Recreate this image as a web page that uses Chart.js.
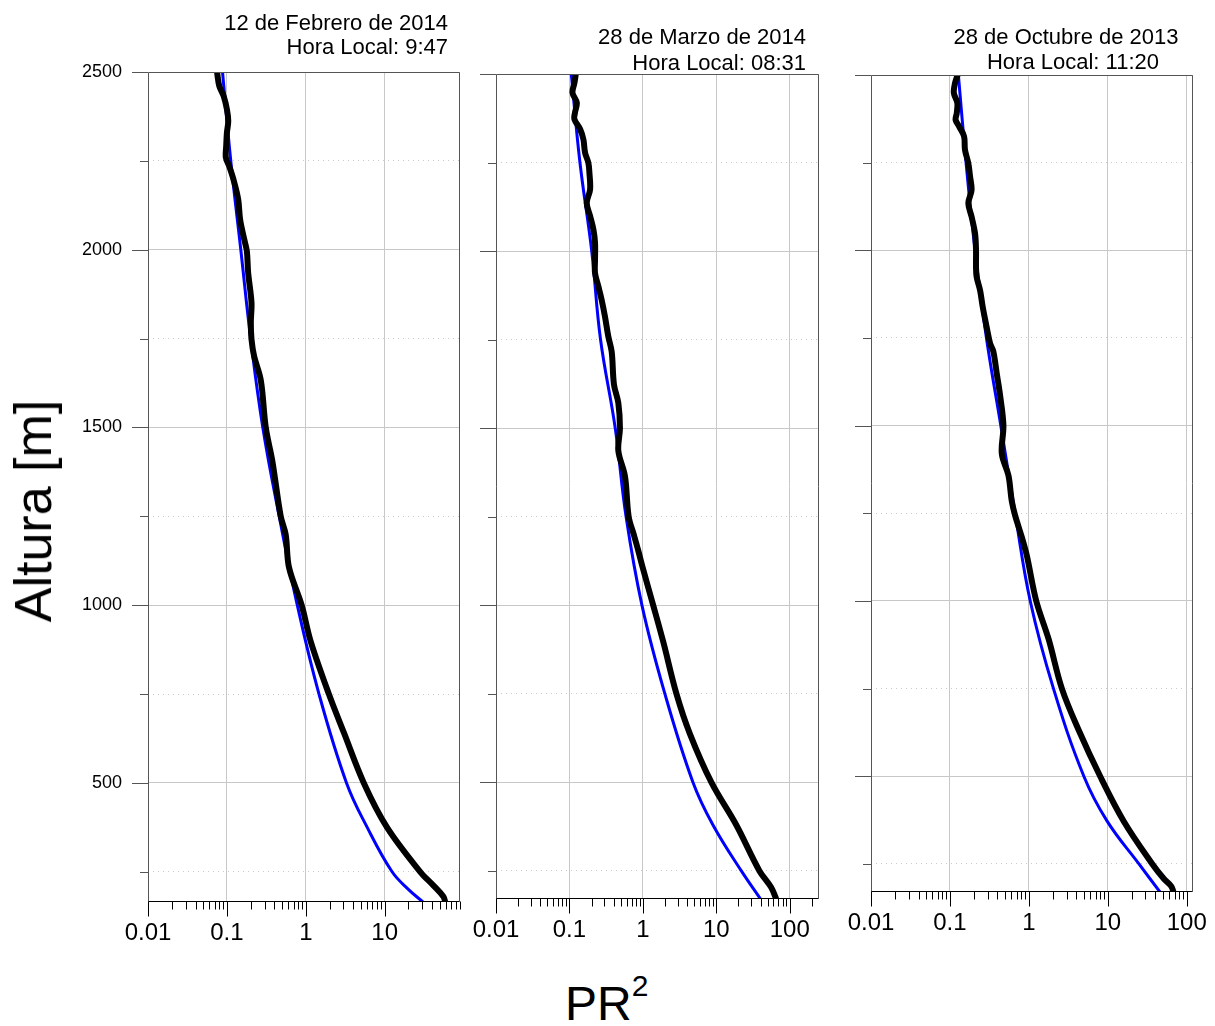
<!DOCTYPE html>
<html>
<head>
<meta charset="utf-8">
<script src="https://cdn.jsdelivr.net/npm/chart.js@4.4.1/dist/chart.umd.min.js"></script>
<style>
  body { margin: 0; background: #fff; width: 1215px; height: 1026px; position: relative; overflow: hidden;
         font-family: "Liberation Sans", Arial, sans-serif; }
  canvas { position: absolute; top: 0; }
  .txt { position: absolute; white-space: nowrap; color: #000; line-height: 1; }
</style>
</head>
<body>
<canvas id="febChart" style="left:0px" width="470" height="960"></canvas>
<canvas id="marChart" style="left:470px" width="360" height="960"></canvas>
<canvas id="octChart" style="left:840px" width="375" height="960"></canvas>

<div class="txt" style="font-size:22px; right:767px; top:12px;">12 de Febrero de 2014</div>
<div class="txt" style="font-size:22px; right:767px; top:36px;">Hora Local: 9:47</div>
<div class="txt" style="font-size:22px; right:409px; top:26px;">28 de Marzo de 2014</div>
<div class="txt" style="font-size:22px; right:409px; top:52px;">Hora Local: 08:31</div>
<div class="txt" style="font-size:22px; left:1066px; top:26px; transform:translateX(-50%);">28 de Octubre de 2013</div>
<div class="txt" style="font-size:22px; left:1073px; top:51px; transform:translateX(-50%);">Hora Local: 11:20</div>

<div class="txt" style="font-size:52px; left:33px; top:511px; transform:translate(-50%,-50%) rotate(-90deg);">Altura [m]</div>
<div class="txt" style="font-size:48px; left:565px; top:980px;">PR<span style="font-size:30px; position:relative; top:-24px;">2</span></div>

<script>
// tick labels
const decadeValues = [0.01, 0.1, 1, 10, 100];
const decadeLabels = ['0.01', '0.1', '1', '10', '100'];
const minorMultipliers = [2, 3, 4, 5, 6, 7, 8, 9];
const yTickValues = [250, 500, 750, 1000, 1250, 1500, 1750, 2000, 2250, 2500];

// 12 de Febrero de 2014 - measured (black)
const febAltMeas = [2500, 2461, 2432, 2395, 2362, 2329, 2292, 2259, 2235, 2198, 2142, 2085, 2029, 1996, 1935, 1851, 1795, 1748, 1701, 1633, 1500, 1405, 1250, 1199, 1106, 1000, 899, 750, 642, 500, 375, 250, 211, 180, 165];
const febPrMeas = [0.075, 0.080, 0.091, 0.100, 0.104, 0.100, 0.098, 0.097, 0.107, 0.121, 0.139, 0.147, 0.166, 0.179, 0.186, 0.205, 0.201, 0.205, 0.221, 0.269, 0.311, 0.377, 0.481, 0.556, 0.613, 0.886, 1.15, 1.96, 3.03, 5.43, 10.7, 28.2, 41.6, 55.6, 58.4];
// model (blue)
const febAltModel = [2500, 2250, 2000, 1750, 1500, 1250, 1000, 750, 500, 375, 250, 200, 165];
const febPrModel = [0.088, 0.112, 0.150, 0.200, 0.285, 0.460, 0.780, 1.47, 3.28, 6.0, 12.4, 20.1, 30.5];

// 28 de Marzo de 2014
const marAltMeas = [2500, 2475, 2447, 2419, 2391, 2372, 2344, 2315, 2278, 2249, 2221, 2174, 2136, 2099, 2061, 2024, 1976, 1938, 1901, 1863, 1816, 1759, 1716, 1623, 1571, 1500, 1436, 1364, 1250, 1200, 1156, 1104, 1000, 897, 750, 638, 500, 379, 250, 203, 170];
const marPrMeas = [0.122, 0.117, 0.110, 0.126, 0.119, 0.117, 0.140, 0.155, 0.163, 0.181, 0.187, 0.191, 0.172, 0.191, 0.212, 0.223, 0.223, 0.223, 0.247, 0.274, 0.304, 0.338, 0.376, 0.404, 0.463, 0.487, 0.463, 0.570, 0.640, 0.75, 0.86, 1.00, 1.38, 1.89, 2.86, 4.34, 8.54, 18.7, 38.5, 55.7, 65.4];
const marAltModel = [2500, 2250, 2000, 1750, 1500, 1250, 1000, 750, 500, 379, 250, 170];
const marPrModel = [0.106, 0.139, 0.201, 0.265, 0.420, 0.590, 0.97, 1.99, 4.8, 9.0, 21.8, 40.0];

// 28 de Octubre de 2013
const octAltMeas = [2500, 2477, 2449, 2420, 2391, 2372, 2353, 2325, 2287, 2248, 2210, 2172, 2134, 2096, 2048, 2001, 1953, 1924, 1886, 1839, 1781, 1734, 1711, 1648, 1586, 1500, 1420, 1358, 1285, 1244, 1182, 1130, 1000, 891, 750, 632, 500, 372, 250, 207, 186, 170];
const octPrMeas = [0.125, 0.116, 0.112, 0.124, 0.122, 0.118, 0.131, 0.151, 0.155, 0.171, 0.180, 0.188, 0.171, 0.188, 0.208, 0.214, 0.214, 0.218, 0.241, 0.260, 0.292, 0.323, 0.355, 0.392, 0.432, 0.476, 0.454, 0.551, 0.607, 0.669, 0.814, 0.941, 1.24, 1.78, 2.62, 4.27, 8.0, 15.9, 36.6, 51.6, 63.9, 67.9];
const octAltModel = [2500, 2250, 2000, 1750, 1500, 1250, 1000, 750, 500, 372, 250, 170];
const octPrModel = [0.128, 0.160, 0.208, 0.290, 0.441, 0.669, 1.04, 2.05, 4.97, 9.8, 24.8, 45.8];

const isDecade = v => Math.abs(Math.log10(v) - Math.round(Math.log10(v))) < 1e-6;

// box round the plot area and the tick marks (longer on labelled ticks)
const frameAndTicks = {
  id: 'frameAndTicks',
  afterDraw(chart) {
    const { ctx, chartArea: a, scales: { x, y } } = chart;
    ctx.save();
    ctx.lineWidth = 1;
    ctx.strokeStyle = '#555';
    y.ticks.forEach(t => {
      const py = Math.round(y.getPixelForValue(t.value)) + 0.5;
      const len = t.value % 500 === 0 ? 16 : 8;
      ctx.beginPath(); ctx.moveTo(a.left - len, py); ctx.lineTo(a.left, py); ctx.stroke();
    });
    const l = Math.round(a.left) + 0.5, r = Math.round(a.right) - 0.5;
    const t = Math.round(a.top) + 0.5, b = Math.round(a.bottom) - 0.5;
    ctx.beginPath();
    ctx.moveTo(l, b); ctx.lineTo(l, t); ctx.lineTo(r, t); ctx.lineTo(r, b);
    ctx.stroke();
    ctx.strokeStyle = '#000';
    ctx.beginPath(); ctx.moveTo(l, b); ctx.lineTo(r, b); ctx.stroke();
    x.ticks.forEach(tk => {
      const px = Math.round(x.getPixelForValue(tk.value)) + 0.5;
      const len = isDecade(tk.value) ? 15 : 8;
      ctx.beginPath(); ctx.moveTo(px, b); ctx.lineTo(px, b + len); ctx.stroke();
    });
    ctx.restore();
  }
};

function makePanel(id, altMeas, prMeas, altModel, prModel, cfg) {
  const pts = (alt, pr) => alt.map((a, i) => ({ x: pr[i], y: a }));
  new Chart(document.getElementById(id), {
    type: 'line',
    data: {
      datasets: [
        { label: 'Medido', data: pts(altMeas, prMeas), borderColor: '#000', borderWidth: 6,
          pointRadius: 0, tension: 0.35, order: 1 },
        { label: 'Modelo', data: pts(altModel, prModel), borderColor: '#0000ff', borderWidth: 3,
          pointRadius: 0, tension: 0.4, order: 2 }
      ]
    },
    options: {
      responsive: false,
      animation: false,
      layout: { padding: { left: 0, right: cfg.padRight, top: cfg.padTop, bottom: 0 } },
      plugins: { legend: { display: false }, tooltip: { enabled: false } },
      scales: {
        x: {
          type: 'logarithmic',
          min: 0.01,
          max: cfg.xMax,
          afterBuildTicks: scale => {
            const vals = [];
            decadeValues.forEach(d => {
              vals.push(d);
              minorMultipliers.forEach(m => vals.push(d * m));
            });
            scale.ticks = vals.filter(v => v <= cfg.xMax + 1e-9).sort((p, q) => p - q).map(v => ({ value: v }));
          },
          afterFit: scale => { scale.height = cfg.xAxisHeight; },
          grid: {
            color: ctx => (ctx.tick && isDecade(ctx.tick.value)) ? '#c8c8c8' : 'rgba(0,0,0,0)',
            lineWidth: 1,
            tickLength: 15,
            tickColor: 'rgba(0,0,0,0)'
          },
          border: { display: false },
          ticks: {
            autoSkip: false,
            maxRotation: 0,
            minRotation: 0,
            padding: 2,
            color: '#000',
            font: { family: '"Liberation Sans", Arial, sans-serif', size: 24 },
            callback: v => {
              const k = decadeValues.findIndex(d => Math.abs(d - v) < d * 1e-6);
              return k >= 0 ? decadeLabels[k] : '';
            }
          }
        },
        y: {
          type: 'linear',
          min: cfg.yMin,
          max: 2500,
          afterBuildTicks: scale => {
            scale.ticks = yTickValues.filter(v => v >= cfg.yMin).map(v => ({ value: v }));
          },
          afterFit: scale => { scale.width = cfg.yAxisWidth; },
          grid: {
            color: '#c8c8c8',
            lineWidth: 1,
            tickLength: 16,
            tickColor: 'rgba(0,0,0,0)'
          },
          border: {
            display: false,
            dash: ctx => (ctx.tick && ctx.tick.value % 500 !== 0) ? [1, 4] : []
          },
          ticks: {
            autoSkip: false,
            padding: 10,
            color: '#000',
            font: { family: '"Liberation Sans", Arial, sans-serif', size: 18 },
            callback: v => (cfg.yLabels && v % 500 === 0) ? String(v) : ''
          }
        }
      }
    },
    plugins: [frameAndTicks]
  });
}

makePanel('febChart', febAltMeas, febPrMeas, febAltModel, febPrModel,
  { xMax: 90, yMin: 165, padRight: 10, padTop: 72, yAxisWidth: 148, xAxisHeight: 58, yLabels: true });
makePanel('marChart', marAltMeas, marPrMeas, marAltModel, marPrModel,
  { xMax: 250, yMin: 170, padRight: 11, padTop: 74, yAxisWidth: 26, xAxisHeight: 61, yLabels: false });
makePanel('octChart', octAltMeas, octPrMeas, octAltModel, octPrModel,
  { xMax: 120, yMin: 170, padRight: 22, padTop: 75, yAxisWidth: 31, xAxisHeight: 68, yLabels: false });
</script>
</body>
</html>
